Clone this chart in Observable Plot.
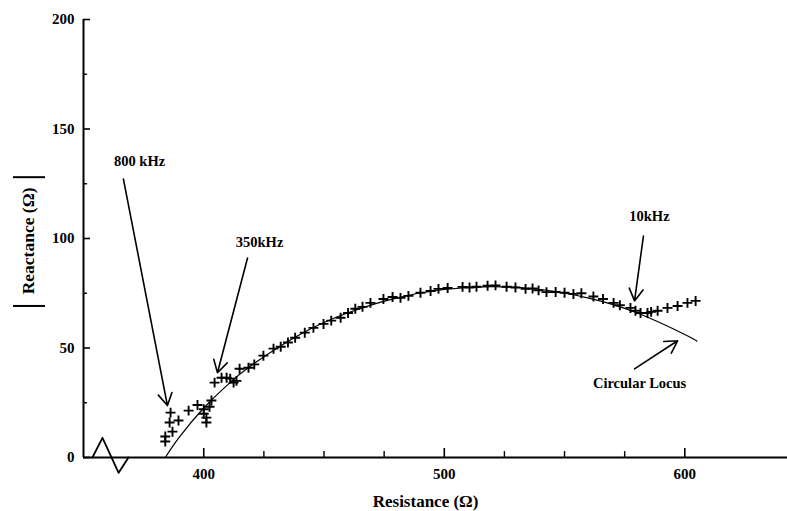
<!DOCTYPE html>
<html><head><meta charset="utf-8">
<script src="https://cdn.jsdelivr.net/npm/d3@7"></script>
<script src="https://cdn.jsdelivr.net/npm/@observablehq/plot@0.6"></script>
<style>
body{margin:0;background:#fff}
svg{font-family:"Liberation Serif","DejaVu Serif",serif}
</style>
</head><body><div id="chart"></div>
<script>
// Measured points (+), resistance (Ω) vs |reactance| (Ω)
const resistance = [384,384,387,385.8,389.5,386.2,393.7,397.4,400,400,401.1,401.1,402.4,403.2,404.5,407.4,409.5,411,412.4,413.6,414.9,418.6,421,424.8,429,432,435,438,442,445.6,449.8,453,456.9,460,463,466,469.3,474.7,478.5,481.8,485.1,490.1,494.3,497.6,501.4,507.6,510.5,513.4,518,521.3,525.9,529.6,533.8,536.7,539.2,542.5,546.3,550,553.7,557,562,566,570.4,573,577.4,579.5,581.6,584.5,586,588.7,592.8,597,601.1,604.5];
const reactance  = [7.3,9.6,11.8,16,16.9,20.5,21.4,24,20,22,18.2,16,23.2,26,34.2,36.4,36.4,36,34.2,35,40.5,41,42.5,46.5,49.7,50.6,52.5,54.7,57,59.2,61,62.5,63.8,66,67.9,68.8,70.6,72.4,73.3,72.9,73.8,75.2,76,77,77.4,77.9,77.6,78,78.4,78.6,78,77.6,77,77.2,76.3,75.5,75.6,75.2,74.7,75,73.5,72.4,70.6,69.5,68.3,67,66,66,66.5,67,68.3,69.2,70.6,71.5];

// Circular locus
const locusR = [384,390,400,410,420,440,460,480,500,520,540,560,580,600,605];
const locusX = [0,9.5,22.6,33.3,42.2,56.2,66.1,72.8,76.7,78,76.7,72.8,66.1,56.2,53.2];

// Axis-break zigzag on the resistance axis
const breakR = [353.7,357.9,364.6,368.7];
const breakX = [0,9,-7,0];

// Ticks
const xMajorTicks = [400,500,600];
const xMinorTicks = [425,450,475,525,550,575];
const yMajorTicks = [0,50,100,150,200];
const yMinorTicks = [25,75,125,175];

// Annotations
const labelText = ["800 kHz","350kHz","10kHz","Circular Locus"];
const labelR = [373.3,423.2,585.3,581.2];
const labelX = [135.3,98.4,110.3,33.7];
const arrowR1 = [366.6,418.2,582.8,579.1];
const arrowX1 = [127.1,91.1,101.1,40.5];
const arrowR2 = [384.9,405.7,579.1,597];
const arrowX2 = [23.7,38.7,71.5,53.3];

// Axis titles (positions in data units, outside the frame)
const xTitle = "Resistance (Ω)";
const yTitle = "Reactance (Ω)";
const xTitlePos = [492.2, -20];
const yTitlePos = [327.1, 98.9];
// magnitude bars |…| around the y title
const yBarX = [128, 69.2];
const yBarR = [320.9, 334.2];

const points = resistance.map((r,i)=>({r, x: reactance[i]}));
const locus = locusR.map((r,i)=>({r, x: locusX[i]}));
const brk = breakR.map((r,i)=>({r, x: breakX[i]}));
const labels = labelText.map((t,i)=>({t, r: labelR[i], x: labelX[i]}));
const arrows = arrowR1.map((r1,i)=>({r1, x1: arrowX1[i], r2: arrowR2[i], x2: arrowX2[i]}));

const font = {fontFamily: "Liberation Serif", fontWeight: "bold"};

const chart = Plot.plot({
  width: 787, height: 511,
  marginLeft: 83, marginRight: 0, marginTop: 19, marginBottom: 54,
  x: {domain: [350, 642.7], axis: null},
  y: {domain: [0, 200], axis: null},
  style: {background: "#fff", color: "#000"},
  marks: [
    Plot.ruleY([0], {stroke: "#000", strokeWidth: 2}),
    Plot.ruleX([350], {stroke: "#000", strokeWidth: 2}),
    Plot.ruleX(xMajorTicks, {x: d => d, y1: 0, y2: 4.1, stroke: "#000", strokeWidth: 1.6}),
    Plot.ruleX(xMinorTicks, {x: d => d, y1: 0, y2: 2.7, stroke: "#000", strokeWidth: 1.4}),
    Plot.ruleY(yMajorTicks, {y: d => d, x1: 350, x2: 352.9, stroke: "#000", strokeWidth: 1.6}),
    Plot.ruleY(yMinorTicks, {y: d => d, x1: 350, x2: 351.7, stroke: "#000", strokeWidth: 1.4}),
    Plot.axisX(xMajorTicks, {tickSize: 0, tickPadding: 11, fontSize: 15, ...font, label: null}),
    Plot.axisY(yMajorTicks, {tickSize: 0, tickPadding: 9, fontSize: 15, ...font, label: null}),
    Plot.text([xTitle], {x: [xTitlePos[0]], y: [xTitlePos[1]], fontSize: 17, ...font}),
    Plot.text([yTitle], {x: [yTitlePos[0]], y: [yTitlePos[1]], rotate: -90, fontSize: 17.5, ...font}),
    Plot.ruleY(yBarX, {y: d => d, x1: yBarR[0], x2: yBarR[1], stroke: "#000", strokeWidth: 2}),
    Plot.line(brk, {x: "r", y: "x", stroke: "#000", strokeWidth: 1.8}),
    Plot.line(locus, {x: "r", y: "x", stroke: "#000", strokeWidth: 1.2, curve: "natural"}),
    Plot.dot(points, {x: "r", y: "x", symbol: "plus", r: 3.3, stroke: "#000", strokeWidth: 1.9}),
    Plot.arrow(arrows, {x1: "r1", y1: "x1", x2: "r2", y2: "x2", stroke: "#000", strokeWidth: 1.6, headLength: 13}),
    Plot.text(labels, {x: "r", y: "x", text: "t", fontSize: 14.5, ...font})
  ]
});
document.getElementById("chart").appendChild(chart);
</script>
</body></html>
